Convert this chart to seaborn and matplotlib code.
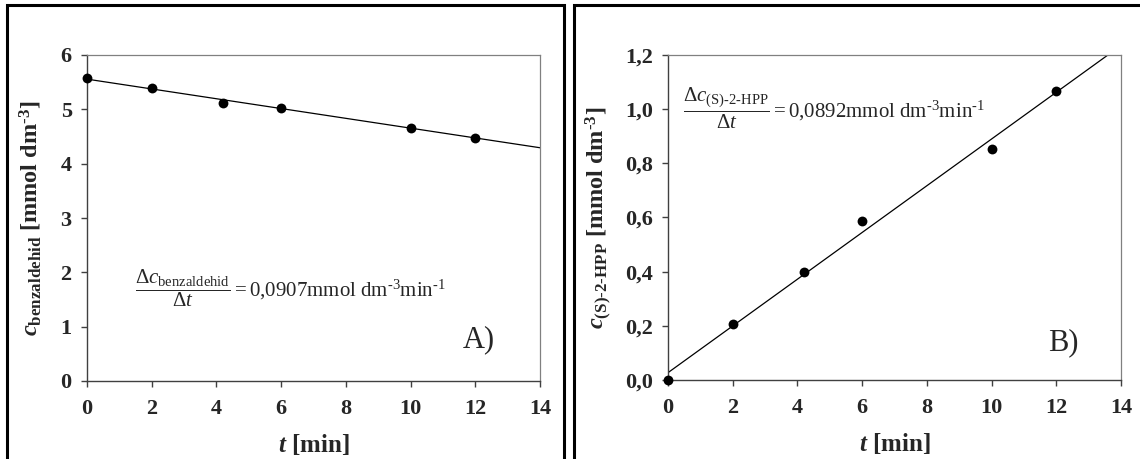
import numpy as np
import pandas as pd
import matplotlib
matplotlib.use("Agg")
import matplotlib.pyplot as plt
from matplotlib.patches import Rectangle
from matplotlib.ticker import FuncFormatter
import seaborn as sns

# data
t_min = [0, 2, 4.2, 6, 10, 12]
c_benzaldehid = [5.57, 5.40, 5.11, 5.03, 4.66, 4.48]
c_hpp = [0.0, 0.206, 0.399, 0.588, 0.853, 1.067]

x_ticks = [0, 2, 4, 6, 8, 10, 12, 14]
y_ticks_a = [0, 1, 2, 3, 4, 5, 6]
y_ticks_b = [0.0, 0.2, 0.4, 0.6, 0.8, 1.0, 1.2]

sns.set_style("ticks")
plt.rcParams['font.family'] = ['Liberation Serif', 'DejaVu Serif']
plt.rcParams['mathtext.fontset'] = 'custom'
plt.rcParams['mathtext.rm'] = 'Liberation Serif'
plt.rcParams['mathtext.it'] = 'Liberation Serif:italic'
plt.rcParams['mathtext.bf'] = 'Liberation Serif:bold'
plt.rcParams['mathtext.bfit'] = 'Liberation Serif:bold:italic'

df_a = pd.DataFrame({"t": t_min, "c": c_benzaldehid})
df_b = pd.DataFrame({"t": t_min, "c": c_hpp})

fig = plt.figure(figsize=(11.4, 4.59), dpi=100)
W, H = 1140, 459

# panel frames (they run past the bottom of the image)
fig.patches.append(Rectangle((7 / W, -0.1), (564 - 7) / W, 1.1 - 5 / H,
                             transform=fig.transFigure, fill=False,
                             edgecolor='black', linewidth=2.2))
fig.patches.append(Rectangle((574 / W, -0.1), 0.6, 1.1 - 5 / H,
                             transform=fig.transFigure, fill=False,
                             edgecolor='black', linewidth=2.2))

ax_a = fig.add_axes([87 / W, 1 - 381 / H, 453 / W, 326 / H])
ax_b = fig.add_axes([668 / W, 1 - 380 / H, 453 / W, 325 / H])

HY = "\u2010"  # plain hyphen inside mathtext


def comma_fmt(decimals):
    def f(v, _):
        return f"{v:.{decimals}f}".replace('.', ',')
    return FuncFormatter(f)


def draw_panel(ax, df, ylim, yticks, ydec):
    ax.set_xlim(0, 14)
    ax.set_ylim(*ylim)
    sns.regplot(data=df, x="t", y="c", ax=ax, ci=None, truncate=False,
                scatter_kws=dict(s=50, color='black', edgecolor='black',
                                 linewidths=0, alpha=1, clip_on=False, zorder=5),
                line_kws=dict(color='black', linewidth=0.9))
    ax.set_xlim(0, 14)
    ax.set_ylim(*ylim)
    ax.set_xticks(x_ticks)
    ax.set_yticks(yticks)
    ax.yaxis.set_major_formatter(comma_fmt(ydec))
    ax.tick_params(axis='both', direction='out', length=4, width=1,
                   color='#404040', labelsize=16)
    ax.tick_params(axis='x', pad=9)
    ax.tick_params(axis='y', pad=7)
    for lab in ax.get_xticklabels() + ax.get_yticklabels():
        lab.set_fontweight('bold')
    for side in ['top', 'right']:
        ax.spines[side].set_color('#808080')
        ax.spines[side].set_linewidth(0.9)
    for side in ['left', 'bottom']:
        ax.spines[side].set_color('#404040')
        ax.spines[side].set_linewidth(1.0)
    ax.set_xlabel(r"$\mathbfit{t}$ [min]", fontsize=18, fontweight='bold',
                  labelpad=9)


draw_panel(ax_a, df_a, (0, 6), y_ticks_a, 0)
draw_panel(ax_b, df_b, (0, 1.2), y_ticks_b, 1)

ax_a.set_ylabel("$\\mathbfit{c}_{\\mathbf{benzaldehid}}$ [mmol dm$^{\\mathbf{" + HY + "3}}$]",
                fontsize=17.5, fontweight='bold', labelpad=12)
ax_b.set_ylabel("$\\mathbfit{c}_{\\mathbf{(S)" + HY + "2" + HY + "HPP}}$ [mmol dm$^{\\mathbf{" + HY + "3}}$]",
                fontsize=17.5, fontweight='bold', labelpad=8)

ax_a.text(0.105, 0.285,
          "$\\dfrac{\\Delta c_{\\mathrm{benzaldehid}}}{\\Delta t} = 0{,}0907\\mathrm{mmol\\ dm^{" + HY + "3}min^{" + HY + "1}}$",
          transform=ax_a.transAxes, fontsize=15, va='center', ha='left')
ax_b.text(0.033, 0.835,
          "$\\dfrac{\\Delta c_{\\mathrm{(S)" + HY + "2" + HY + "HPP}}}{\\Delta t} = 0{,}0892\\mathrm{mmol\\ dm^{" + HY + "3}min^{" + HY + "1}}$",
          transform=ax_b.transAxes, fontsize=15, va='center', ha='left')

ax_a.text(0.865, 0.126, "A)", transform=ax_a.transAxes, fontsize=22,
          ha='center', va='center')
ax_b.text(0.872, 0.114, "B)", transform=ax_b.transAxes, fontsize=22,
          ha='center', va='center')

fig.savefig("out.png", dpi=100)
